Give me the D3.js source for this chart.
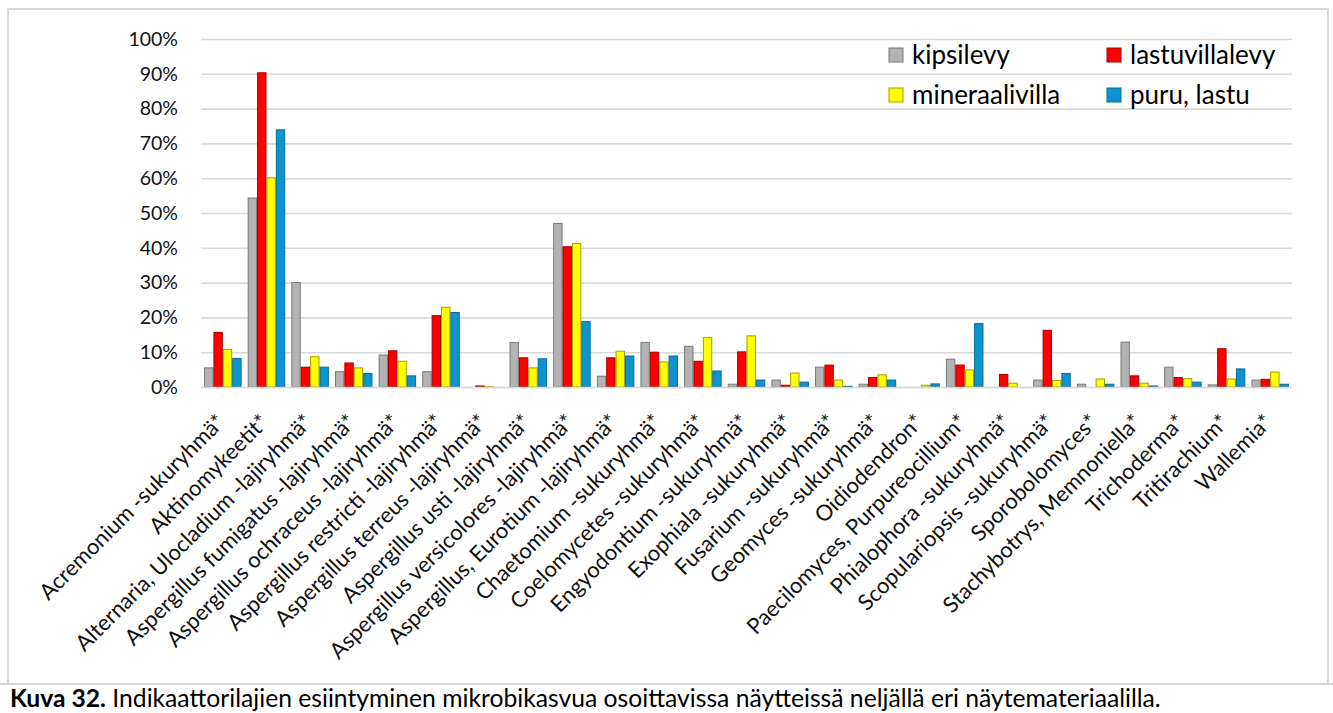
<!DOCTYPE html>
<html>
<head>
<meta charset="utf-8">
<script src="https://cdn.jsdelivr.net/npm/d3@7/dist/d3.min.js"></script>
<style>
  body { margin: 0; background: #fff; }
  svg { display: block; font-family: Lato, "Noto Sans", sans-serif; }
</style>
</head>
<body>
<svg id="chart" width="1333" height="713"></svg>
<script>
// Indicator taxa found in samples with microbial growth, by sample material (%)
const categories = [
  "Acremonium -sukuryhmä*",
  "Aktinomykeetit*",
  "Alternaria, Ulocladium -lajiryhmä*",
  "Aspergillus fumigatus -lajiryhmä*",
  "Aspergillus ochraceus -lajiryhmä*",
  "Aspergillus restricti -lajiryhmä*",
  "Aspergillus terreus -lajiryhmä*",
  "Aspergillus usti -lajiryhmä*",
  "Aspergillus versicolores -lajiryhmä*",
  "Aspergillus, Eurotium -lajiryhmä*",
  "Chaetomium -sukuryhmä*",
  "Coelomycetes -sukuryhmä*",
  "Engyodontium -sukuryhmä*",
  "Exophiala -sukuryhmä*",
  "Fusarium -sukuryhmä*",
  "Geomyces -sukuryhmä*",
  "Oidiodendron*",
  "Paecilomyces, Purpureocillium*",
  "Phialophora -sukuryhmä*",
  "Scopulariopsis -sukuryhmä*",
  "Sporobolomyces*",
  "Stachybotrys, Memnoniella*",
  "Trichoderma*",
  "Tritirachium*",
  "Wallemia*"
];

const seriesNames = ["kipsilevy", "lastuvillalevy", "mineraalivilla", "puru, lastu"];

const kipsilevy      = [5.5, 54.3, 30.0, 4.4, 9.2, 4.4, 0.0, 12.8, 47.0, 3.1, 12.8, 11.7, 0.8, 2.0, 5.7, 0.8, 0.0, 8.0, 0.0, 2.0, 0.8, 12.9, 5.7, 0.6, 2.0];
const lastuvillalevy = [15.7, 90.3, 5.7, 6.9, 10.4, 20.5, 0.3, 8.4, 40.3, 8.4, 10.0, 7.4, 10.1, 0.5, 6.3, 2.7, 0.0, 6.3, 3.6, 16.3, 0.0, 3.2, 2.7, 11.0, 2.2];
const mineraalivilla = [10.8, 60.1, 8.7, 5.5, 7.4, 22.9, 0.1, 5.5, 41.2, 10.3, 7.2, 14.2, 14.7, 4.0, 2.0, 3.5, 0.5, 4.9, 1.1, 1.9, 2.3, 1.1, 2.4, 2.3, 4.3];
const puruLastu      = [8.2, 73.9, 5.7, 3.9, 3.2, 21.4, 0.0, 8.1, 18.8, 8.9, 8.9, 4.6, 2.0, 1.4, 0.2, 2.0, 0.9, 18.2, 0.0, 3.9, 0.8, 0.3, 1.4, 5.2, 0.8];

const yTicks = [0, 10, 20, 30, 40, 50, 60, 70, 80, 90, 100];

const seriesValues = [kipsilevy, lastuvillalevy, mineraalivilla, puruLastu];
const fills   = ["#b3b3b3", "#ff0000", "#ffff00", "#0f93cf"];
const strokes = ["#7a7a7a", "#a50000", "#a0a000", "#0b6c9a"];

const svg = d3.select("#chart");

// frame around the chart area and caption separator
svg.append("rect")
  .attr("x", 8).attr("y", 9).attr("width", 1320).attr("height", 675)
  .attr("fill", "none").attr("stroke", "#d9d9d9").attr("stroke-width", 2);
svg.append("line")
  .attr("x1", 0).attr("x2", 1333).attr("y1", 684).attr("y2", 684)
  .attr("stroke", "#d9d9d9").attr("stroke-width", 2);

const plot = { left: 201, right: 1292, top: 39, bottom: 387 };

const x0 = d3.scaleBand()
  .domain(categories)
  .range([plot.left, plot.right])
  .paddingInner(0.14)
  .paddingOuter(0.07);

const x1 = d3.scaleBand()
  .domain(seriesNames)
  .range([0, x0.bandwidth()]);

const y = d3.scaleLinear()
  .domain([0, 100])
  .range([plot.bottom, plot.top]);

// gridlines and percent labels
const yAxis = d3.axisLeft(y)
  .tickValues(yTicks)
  .tickSize(-(plot.right - plot.left))
  .tickPadding(23)
  .tickFormat(d => d + "%");

const gy = svg.append("g")
  .attr("transform", `translate(${plot.left},0)`)
  .call(yAxis)
  .attr("font-family", null);
gy.select(".domain").remove();
gy.selectAll(".tick line").attr("stroke", "#d9d9d9").attr("stroke-width", 1.6);
gy.selectAll(".tick text")
  .attr("fill", "#111")
  .style("font-size", "19.5px");

// bars
const table = categories.map((c, i) => ({
  category: c,
  values: seriesNames.map((s, j) => ({ series: s, idx: j, value: seriesValues[j][i] }))
}));

const groups = svg.append("g").selectAll("g")
  .data(table)
  .join("g")
  .attr("transform", d => `translate(${x0(d.category)},0)`);

groups.selectAll("rect")
  .data(d => d.values.filter(v => v.value > 0))
  .join("rect")
  .attr("x", d => x1(d.series) + 0.5)
  .attr("width", x1.bandwidth() - 1)
  .attr("y", d => y(d.value))
  .attr("height", d => y(0) - y(d.value))
  .attr("fill", d => fills[d.idx])
  .attr("stroke", d => strokes[d.idx])
  .attr("stroke-width", 1);

// category axis
const xAxis = d3.axisBottom(x0).tickSize(0).tickPadding(0);
const gx = svg.append("g")
  .attr("transform", `translate(0,${plot.bottom})`)
  .call(xAxis)
  .attr("font-family", null);
gx.select(".domain").attr("stroke", "#d9d9d9").attr("stroke-width", 1.6);
gx.selectAll(".tick text")
  .attr("fill", "#111")
  .style("font-size", "22px")
  .attr("text-anchor", "end")
  .attr("y", 0)
  .attr("dy", "0.35em")
  .attr("transform", "translate(-2,31) rotate(-45)");

// legend
const legendPos = [
  { x: 889, y: 55 }, { x: 1107, y: 55 },
  { x: 889, y: 95 }, { x: 1107, y: 95 }
];
const legend = svg.append("g").selectAll("g")
  .data(seriesNames)
  .join("g")
  .attr("transform", (d, i) => `translate(${legendPos[i].x},${legendPos[i].y})`);
legend.append("rect")
  .attr("x", 0).attr("y", -7).attr("width", 14).attr("height", 14)
  .attr("fill", (d, i) => fills[i])
  .attr("stroke", (d, i) => strokes[i]);
legend.append("text")
  .attr("x", 23).attr("y", 0).attr("dy", "0.35em")
  .attr("fill", "#000")
  .style("font-size", "26px")
  .text(d => d);

// caption
const cap = svg.append("text")
  .attr("x", 10).attr("y", 707)
  .attr("fill", "#000")
  .style("font-size", "24.7px");
cap.append("tspan").style("font-weight", "bold").text("Kuva 32.");
cap.append("tspan").text(" Indikaattorilajien esiintyminen mikrobikasvua osoittavissa näytteissä neljällä eri näytemateriaalilla.");
</script>
</body>
</html>
